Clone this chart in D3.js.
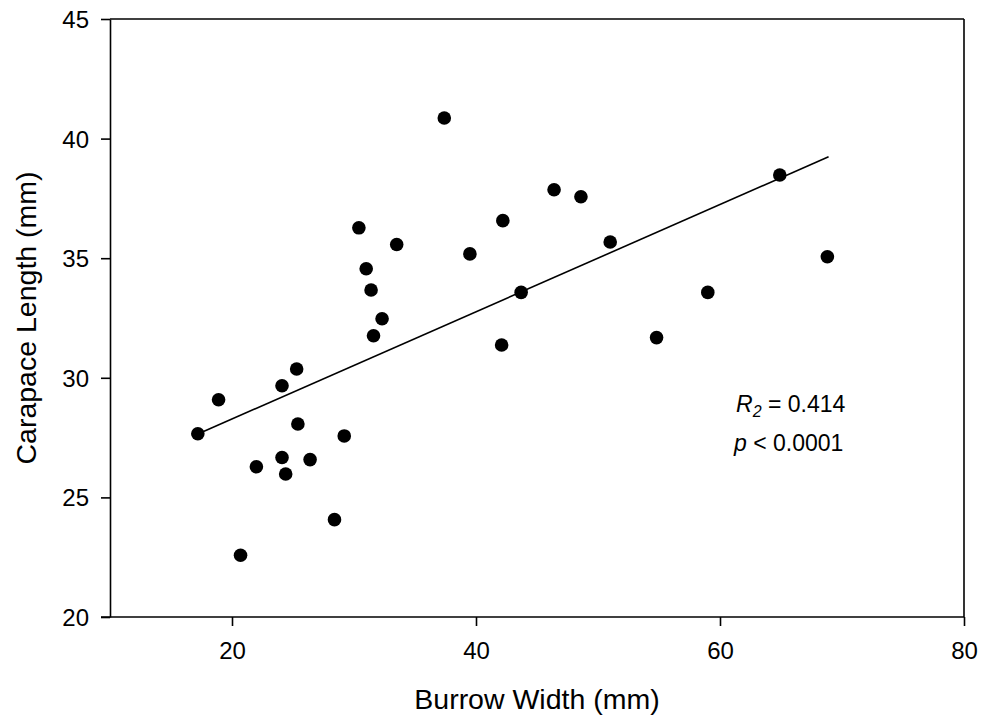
<!DOCTYPE html>
<html>
<head>
<meta charset="utf-8">
<script src="https://cdn.jsdelivr.net/npm/d3@7"></script>
<style>
  body { margin: 0; background: #fff; }
  svg { display: block; font-family: "Liberation Sans", Arial, sans-serif; }
</style>
</head>
<body>
<svg id="chart" width="981" height="723"></svg>
<script>
// Data
const burrowWidth = [17.2, 18.9, 24.1, 25.3, 31.6, 25.4, 29.2, 24.1, 22.0, 26.4, 24.4, 28.4, 20.7,
  37.4, 30.4, 33.5, 42.2, 39.5, 31.0, 31.4, 32.3, 43.7, 42.1,
  46.4, 48.6, 51.0, 64.9, 68.8, 59.0, 54.8];
const carapaceLength = [27.66, 29.08, 29.67, 30.37, 31.76, 28.07, 27.57, 26.67, 26.28, 26.58, 25.98, 24.07, 22.58,
  40.86, 36.27, 35.57, 36.57, 35.18, 34.56, 33.67, 32.47, 33.57, 31.37,
  37.86, 37.57, 35.68, 38.48, 35.06, 33.57, 31.68];
const fitX = [17.2, 68.9];
const fitY = [27.65, 39.24];
const xTicks = [20, 40, 60, 80];
const yTicks = [20, 25, 30, 35, 40, 45];
const xDomain = [10, 80];
const yDomain = [20, 45];
const xTitle = "Burrow Width (mm)";
const yTitle = "Carapace Length (mm)";

(function () {
const svg = d3.select("#chart");
const mLeft = 110, mRight = 964, mTop = 19, mBottom = 617;

const x = d3.scaleLinear().domain(xDomain).range([mLeft, mRight]);
const y = d3.scaleLinear().domain(yDomain).range([mBottom, mTop]);

// frame top/right
svg.append("line").attr("x1", mLeft).attr("x2", mRight).attr("y1", mTop).attr("y2", mTop)
  .attr("stroke", "#000").attr("stroke-width", 1.6);
svg.append("line").attr("x1", mRight).attr("x2", mRight).attr("y1", mTop).attr("y2", mBottom)
  .attr("stroke", "#000").attr("stroke-width", 1.6);

const xAxis = svg.append("g").attr("transform", `translate(0,${mBottom})`)
  .call(d3.axisBottom(x).tickValues(xTicks).tickSize(9).tickSizeOuter(0).tickPadding(16).tickFormat(d3.format("d")));
const yAxis = svg.append("g").attr("transform", `translate(${mLeft},0)`)
  .call(d3.axisLeft(y).tickValues(yTicks).tickSize(9).tickSizeOuter(0).tickPadding(12).tickFormat(d3.format("d")));

[xAxis, yAxis].forEach(g => {
  g.select(".domain").attr("stroke", "#000").attr("stroke-width", 1.6);
  g.selectAll(".tick line").attr("stroke", "#000").attr("stroke-width", 1.6);
  g.selectAll(".tick text").attr("fill", "#000").style("font-size", "24px")
    .style("font-family", "'Liberation Sans', Arial, sans-serif");
});
xAxis.select(".domain").attr("d", `M${mLeft - 9},0H${mRight}`);
yAxis.selectAll(".tick text").attr("dy", "0.35em");

// regression line
svg.append("line")
  .attr("x1", x(fitX[0])).attr("y1", y(fitY[0]))
  .attr("x2", x(fitX[1])).attr("y2", y(fitY[1]))
  .attr("stroke", "#000").attr("stroke-width", 1.6);

// points
svg.append("g").selectAll("circle")
  .data(burrowWidth.map((d, i) => [d, carapaceLength[i]]))
  .join("circle")
  .attr("cx", d => x(d[0])).attr("cy", d => y(d[1]))
  .attr("r", 6.8).attr("fill", "#000");

// axis titles
svg.append("text").attr("x", (mLeft + mRight) / 2).attr("y", 709)
  .attr("text-anchor", "middle").style("font-size", "28.5px").text(xTitle);
svg.append("text").attr("transform", `translate(36,${(mTop + mBottom) / 2}) rotate(-90)`)
  .attr("text-anchor", "middle").style("font-size", "28.5px").text(yTitle);

// annotation
const ann = svg.append("text").attr("x", 736).attr("y", 412).style("font-size", "23px");
ann.append("tspan").style("font-style", "italic").text("R");
ann.append("tspan").style("font-style", "italic").style("font-size", "16px").attr("dy", 5).text("2");
ann.append("tspan").attr("dy", -5).text(" = 0.414");
const ann2 = svg.append("text").attr("x", 734).attr("y", 451).style("font-size", "23px");
ann2.append("tspan").style("font-style", "italic").text("p");
ann2.append("tspan").text(" < 0.0001");
})();
</script>
</body>
</html>
